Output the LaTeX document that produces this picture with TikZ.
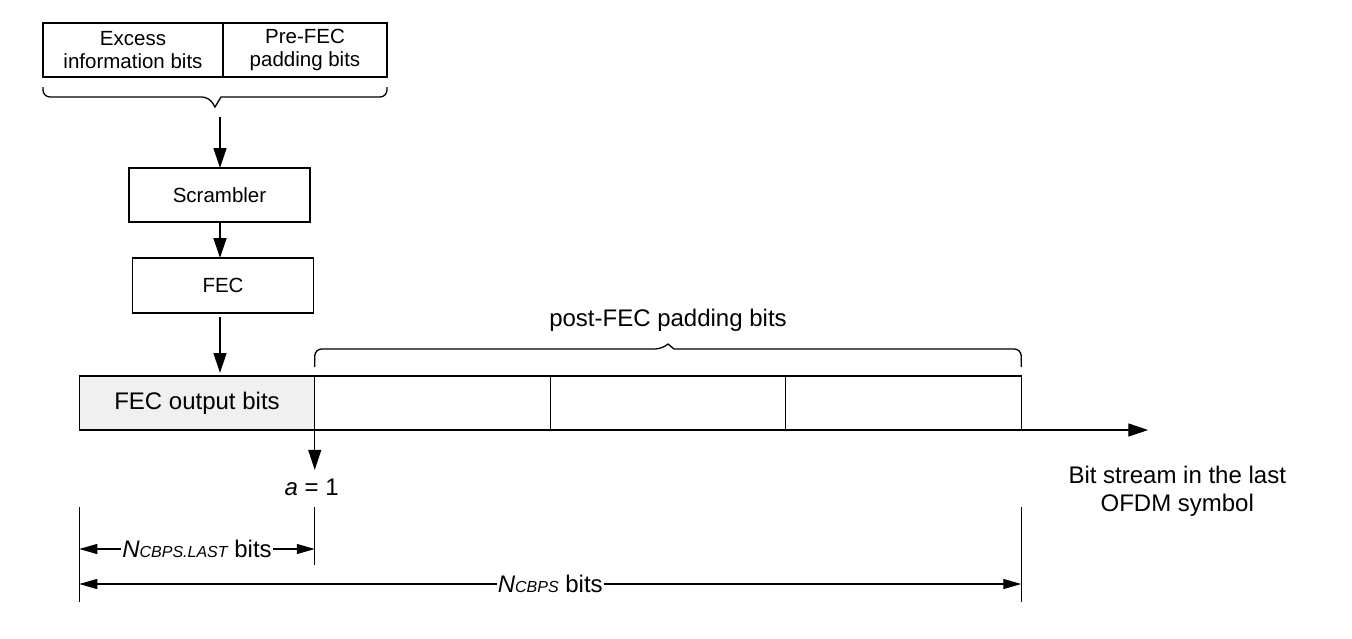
\documentclass[tikz,border=0pt]{standalone}
\usepackage{fontspec}
\setmainfont{Liberation Sans}
\usetikzlibrary{arrows.meta,positioning,calc}

\newcommand{\fsbig}{\fontsize{24}{28.5}\selectfont}
\newcommand{\fsmid}{\fontsize{20.5}{23.3}\selectfont}
\newcommand{\fssub}{\fontsize{16}{16}\selectfont}

\begin{document}
\begin{tikzpicture}[
    x=1pt, y=-1pt,
    line width=1.3pt,
    box/.style={draw, outer sep=0pt, inner sep=0pt, minimum height=54pt,
                align=center, font=\fsmid},
    cell/.style={draw, outer sep=0pt, inner sep=0pt, minimum width=235.5pt,
                 minimum height=54pt, font=\fsbig},
    arrow/.style={-{Triangle[length=20pt,width=13pt]}},
    dimarrow/.style={{Triangle[length=18pt,width=10pt]}-{Triangle[length=18pt,width=10pt]}},
    lbl/.style={inner sep=2pt, font=\fsbig},
    dimlbl/.style={inner xsep=1pt, inner ysep=2pt, fill=white, font=\fsbig},
    bracket/.style={rounded corners=7pt},
]

\useasboundingbox (0,0) rectangle (1352,638);

% ── Input bits ──
\node[box, minimum width=180pt] (excess) at (133,50) {Excess\\information bits};
\node[box, minimum width=164pt, right=0pt of excess] (prefec) {Pre-FEC\\padding bits};

% ── Processing ──
\node[box, minimum width=181pt] (scrambler) at (219.5,195) {Scrambler};
\node[box, minimum width=181pt, minimum height=55pt] (fec) at (223,285.5) {FEC};

% ── Bit stream of the last symbol ──
\node[cell, fill=black!6] (fecout) at (197,403) {FEC output bits};
\node[cell, right=0pt of fecout] (pad1) {};
\node[cell, right=0pt of pad1] (pad2) {};
\node[cell, right=0pt of pad2] (pad3) {};

% ── Braces ──
\coordinate (ttip) at ($(excess.south west)!0.5!(prefec.south east)+(0,30)$);
\draw[bracket] ([yshift=-10pt]excess.south west) -- ([yshift=-20pt]excess.south west)
    -- ([xshift=-6pt,yshift=10pt]ttip) [sharp corners] -- (ttip)
    -- ([xshift=6pt,yshift=10pt]ttip) [rounded corners=7pt] -- ([yshift=-20pt]prefec.south east)
    -- ([yshift=-10pt]prefec.south east);

\coordinate (ptip) at ($(pad1.north west)!0.5!(pad3.north east)+(0,-32)$);
\draw[bracket] ([yshift=9pt]pad1.north west) -- ([yshift=27pt]pad1.north west)
    -- ([xshift=-6pt,yshift=-5pt]ptip) [sharp corners] -- (ptip)
    -- ([xshift=6pt,yshift=-5pt]ptip) [rounded corners=7pt] -- ([yshift=27pt]pad3.north east)
    -- ([yshift=9pt]pad3.north east);
\node[lbl, above=10pt of ptip] (postfec) {post-FEC padding bits};

% ── Arrows ──
\coordinate (tstart) at ($(ttip)+(5,10)$);
\draw[arrow] (tstart) -- (tstart |- scrambler.north);
\draw[arrow] (tstart |- scrambler.south) -- (tstart |- fec.north);
\draw[arrow, shorten >=3pt] ([yshift=-4pt]tstart |- fec.south) -- (tstart |- fecout.north);

\coordinate (axisend) at ($(pad3.south east)+(127,0)$);
\draw[arrow] (pad3.south east) -- (axisend);
\node[lbl, align=center, anchor=north] (stream) at ($(axisend)+(29,33)$)
    {Bit stream in the last\\OFDM symbol};

\node[lbl, anchor=base] (aone) at ($(fecout.south east)+(-3,65)$) {\textit{a} = 1};
\draw[arrow, shorten >=6pt] (fecout.south east) -- (fecout.south east |- aone.north);

% ── Dimensions ──
\coordinate (exttop) at (0,507);
\coordinate (extmid) at (0,565);
\coordinate (extbot) at (0,602);
\coordinate (dimlast) at (0,549);
\coordinate (dimall) at (0,584);
\draw (fecout.south west |- exttop) -- (fecout.south west |- extbot);
\draw (fecout.south east |- exttop) -- (fecout.south east |- extmid);
\draw (pad3.south east |- exttop) -- (pad3.south east |- extbot);

\draw[dimarrow] (fecout.south west |- dimlast) -- (fecout.south east |- dimlast)
    node[dimlbl, midway] {\textit{N}{\fssub\itshape CBPS.LAST} bits};
\draw[dimarrow] (fecout.south west |- dimall) -- (pad3.south east |- dimall)
    node[dimlbl, midway] {\textit{N}{\fssub\itshape CBPS} bits};

\end{tikzpicture}
\end{document}
